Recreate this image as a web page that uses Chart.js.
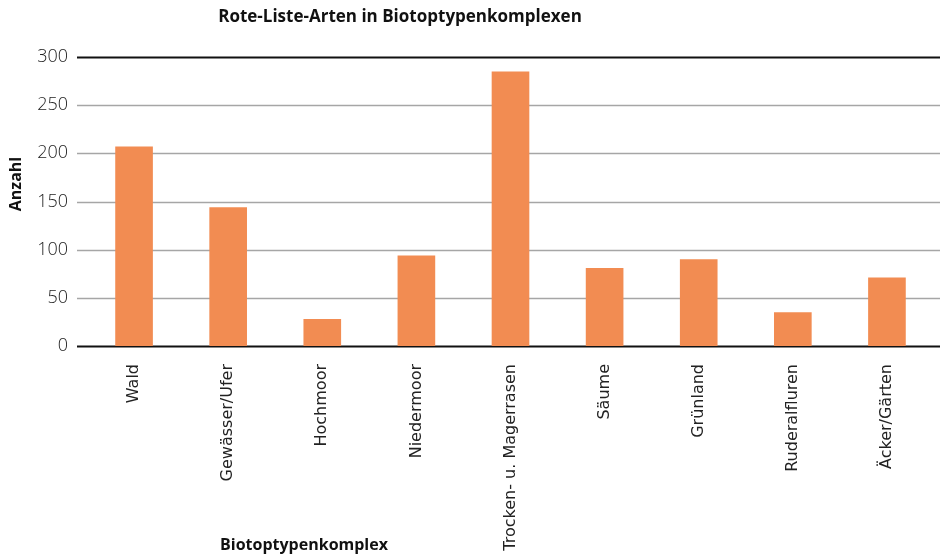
<!DOCTYPE html>
<html>
<head>
<meta charset="utf-8">
<script src="https://cdn.jsdelivr.net/npm/chart.js@4"></script>
<style>
  html, body { margin: 0; padding: 0; background: #fff; }
  #wrap { width: 947px; height: 557px; }
</style>
</head>
<body>
<div id="wrap"><canvas id="chart"></canvas></div>
<script>
var categories = ["Wald", "Gewässer/Ufer", "Hochmoor", "Niedermoor", "Trocken- u. Magerrasen", "Säume", "Grünland", "Ruderalfluren", "Äcker/Gärten"];
var anzahl = [207, 144, 28, 94, 285, 81, 90, 35, 71];
var yTicks = [0, 50, 100, 150, 200, 250, 300];

var chartTitle = "Rote-Liste-Arten in Biotoptypenkomplexen";
var xTitle = "Biotoptypenkomplex";
var yTitle = "Anzahl";

// gridlines run a bit wider than the category band, plus the titles sit off-centre
var extras = {
  id: "extras",
  beforeDatasetsDraw: function(chart) {
    var ctx = chart.ctx, y = chart.scales.y, area = chart.chartArea;
    ctx.save();
    yTicks.forEach(function(v) {
      var py = Math.round(y.getPixelForValue(v)) + 0.5;
      ctx.beginPath();
      ctx.moveTo(area.left - 10, py);
      ctx.lineTo(area.right + 6, py);
      if (v === 0 || v === 300) {
        ctx.strokeStyle = "#111";
        ctx.lineWidth = 2;
      } else {
        ctx.strokeStyle = "#a6a6a6";
        ctx.lineWidth = 1.5;
      }
      ctx.stroke();
    });
    ctx.restore();
  },
  afterDraw: function(chart) {
    var ctx = chart.ctx;
    ctx.save();
    ctx.fillStyle = "#111";
    ctx.textAlign = "center";
    ctx.textBaseline = "middle";
    ctx.font = "bold 17px 'Open Sans'";
    ctx.fillText(chartTitle, 400, 17);
    ctx.font = "bold 16px 'Open Sans'";
    ctx.fillText(xTitle, 304, 545);
    ctx.translate(16, 184);
    ctx.rotate(-Math.PI / 2);
    ctx.fillText(yTitle, 0, 0);
    ctx.restore();
  }
};

new Chart(document.getElementById("chart"), {
  type: "bar",
  data: {
    labels: categories,
    datasets: [{
      label: yTitle,
      data: anzahl,
      backgroundColor: "#f28c52",
      borderWidth: 0,
      categoryPercentage: 1,
      barPercentage: 0.4
    }]
  },
  options: {
    responsive: true,
    maintainAspectRatio: false,
    animation: false,
    layout: { padding: { top: 57, right: 13, left: 0, bottom: 0 } },
    plugins: {
      legend: { display: false },
      tooltip: { enabled: false }
    },
    scales: {
      x: {
        grid: { display: false, drawTicks: false },
        border: { display: false },
        afterFit: function(s) { s.height = 211; },
        ticks: {
          minRotation: 90,
          maxRotation: 90,
          autoSkip: false,
          padding: 18,
          color: "#222",
          font: { family: "'DejaVu Sans'", size: 16 }
        }
      },
      y: {
        min: 0,
        max: 300,
        afterFit: function(s) { s.width = 87; },
        afterBuildTicks: function(s) { s.ticks = yTicks.map(function(v) { return { value: v }; }); },
        grid: { display: false, drawTicks: false },
        border: { display: false },
        ticks: {
          padding: 19,
          color: "#222",
          font: { family: "'Open Sans'", size: 18, weight: "300" }
        }
      }
    }
  },
  plugins: [extras]
});
</script>
</body>
</html>
